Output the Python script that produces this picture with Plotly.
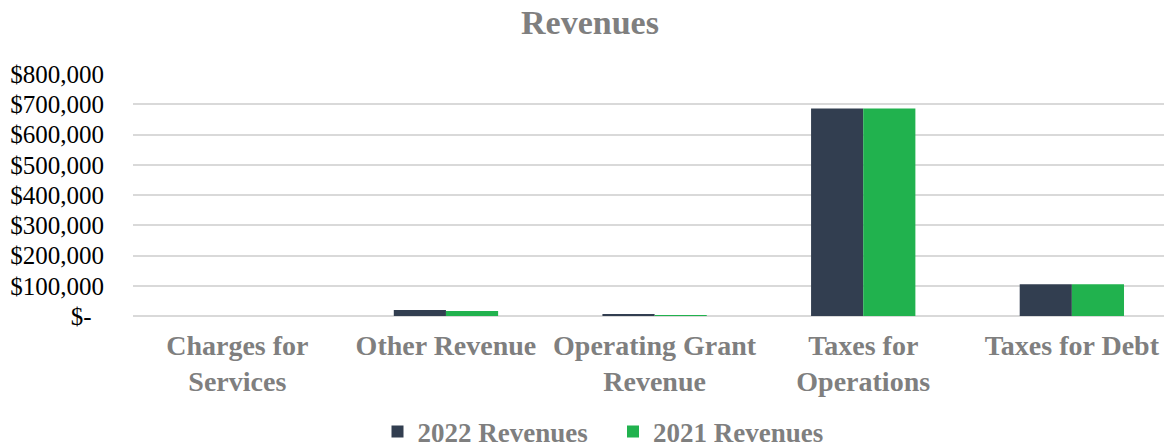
import plotly.graph_objects as go

categories = ["Charges for<br>Services", "Other Revenue", "Operating Grant<br>Revenue",
              "Taxes for<br>Operations", "Taxes for Debt"]
rev_2022 = [0, 19500, 3500, 686000, 105000]
rev_2021 = [0, 16500, 3000, 686000, 105000]
tick_vals = [0, 100000, 200000, 300000, 400000, 500000, 600000, 700000, 800000]
tick_text = ["$-\u00a0\u00a0", "$100,000", "$200,000", "$300,000", "$400,000",
             "$500,000", "$600,000", "$700,000", "$800,000"]

FONT = "Liberation Serif, Times New Roman, serif"
GRAY = "#7F7F7F"

# page body has an 8px margin, so the figure is sized to the visible area
W, H = 1164, 439
top, bottom, left = 66, 308, 125

fig = go.Figure()
fig.add_trace(go.Bar(name="<b>2022 Revenues</b>\u00a0\u00a0\u00a0", x=categories, y=rev_2022,
                     marker=dict(color="#323E50", line=dict(width=0))))
fig.add_trace(go.Bar(name="<b>2021 Revenues</b>", x=categories, y=rev_2021,
                     marker=dict(color="#21B24E", line=dict(width=0))))

fig.update_layout(
    width=W, height=H,
    margin=dict(l=left, r=0, t=top, b=H - bottom, autoexpand=False),
    paper_bgcolor="white", plot_bgcolor="white",
    barmode="group", bargap=0.5, bargroupgap=0,
    title=dict(text="<b>Revenues</b>", x=0.5, xanchor="center", y=1 - 2 / H, yanchor="top",
               font=dict(family=FONT, size=34, color=GRAY)),
    font=dict(family=FONT),
    xaxis=dict(tickfont=dict(family=FONT, size=28, color=GRAY), showgrid=False,
               showline=False, ticks="", range=[-0.5, 4.48], automargin=False,
               ticklabelstandoff=10,
               tickvals=categories,
               ticktext=["<b>" + c.replace("<br>", "</b><br><b>") + "</b>" for c in categories]),
    yaxis=dict(range=[0, 800000], tickvals=tick_vals, ticktext=tick_text,
               tickfont=dict(family=FONT, size=25, color="#000000"),
               showgrid=True, gridcolor="#D9D9D9", gridwidth=2,
               zeroline=True, zerolinecolor="#D9D9D9", zerolinewidth=2,
               ticks="", ticklabelstandoff=28, automargin=False),
    legend=dict(orientation="h", x=(603 - 8 - left) / (W - left), xanchor="center",
                y=-(424 - bottom) / (bottom - top), yanchor="middle",
                font=dict(family=FONT, size=27, color=GRAY), itemwidth=30,
                traceorder="normal"),
    showlegend=True,
)

fig.write_html("out.html")
